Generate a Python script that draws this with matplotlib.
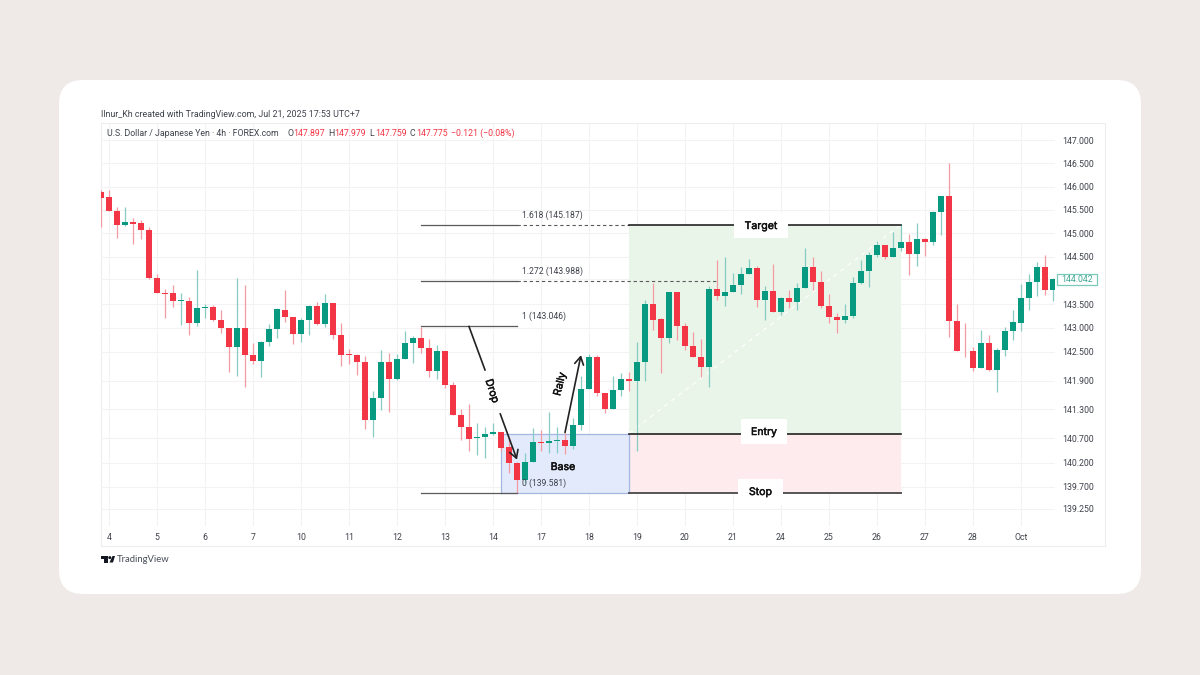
#!/usr/bin/env python3
"""USD/JPY 4h candles with a drop-base-rally setup, TradingView style."""

import matplotlib
matplotlib.use("Agg")
import matplotlib.patheffects as pe
import matplotlib.pyplot as plt
from matplotlib.patches import Circle, FancyBboxPatch, Polygon, Rectangle

plt.rcParams["font.family"] = ["Roboto", "DejaVu Sans"]

RED = "#F23645"
GREEN = "#089981"
RED_WICK = "#F59AA2"
GREEN_WICK = "#86CCC0"
GRID = "#F3F3F3"
TEXT = "#3F424B"
INK = "#111111"

opens = [145.89, 145.77, 145.48, 145.17, 145.25, 145.22, 145.07, 144.05, 143.74, 143.73,
         143.57, 143.57, 143.10, 143.43, 143.45, 143.17, 143.00, 142.61, 143.00, 142.44,
         142.30, 142.70, 142.98, 143.38, 143.23, 142.88, 143.17, 143.47, 143.08, 143.52,
         142.86, 142.45, 142.44, 142.28, 141.08, 141.53, 142.28, 141.94, 142.34, 142.68,
         142.78, 142.57, 142.09, 142.51, 141.81, 141.19, 140.94, 140.70, 140.72, 140.80,
         140.83, 140.52, 140.20, 139.85, 140.22, 140.63, 140.60, 140.65, 140.66, 140.55,
         140.97, 141.73, 142.40, 141.65, 141.31, 141.71, 141.94, 141.90, 142.28, 143.50,
         143.18, 142.79, 143.76, 143.04, 142.62, 142.40, 142.19, 143.81, 143.67, 143.76,
         143.91, 144.13, 144.26, 143.58, 143.78, 143.34, 143.62, 143.55, 143.84, 144.29,
         143.97, 143.46, 143.22, 143.17, 143.25, 143.94, 144.20, 144.53, 144.75, 144.49,
         144.68, 144.82, 144.56, 144.87, 144.82, 145.46, 145.79, 143.15, 142.52, 142.51,
         142.17, 142.69, 142.12, 142.53, 142.93, 143.11, 143.62, 143.96, 144.28, 143.80]
highs = [145.93, 145.93, 145.57, 145.56, 145.33, 145.28, 145.14, 144.14, 143.82, 143.91,
         143.74, 143.65, 144.22, 143.50, 143.48, 143.38, 143.00, 144.05, 143.91, 142.68,
         142.73, 143.08, 143.43, 143.80, 143.23, 143.20, 143.48, 143.54, 143.72, 143.52,
         143.11, 142.56, 142.46, 142.41, 141.69, 142.53, 142.48, 142.45, 142.94, 142.84,
         143.03, 142.77, 142.65, 142.51, 141.86, 141.30, 141.41, 141.01, 140.93, 141.01,
         140.83, 140.71, 140.22, 140.39, 140.91, 140.87, 141.25, 140.94, 140.82, 141.12,
         142.00, 142.46, 142.43, 141.65, 142.00, 142.06, 142.07, 142.71, 143.59, 143.94,
         143.20, 143.76, 143.76, 143.11, 142.92, 142.76, 143.88, 144.43, 144.50, 144.15,
         144.29, 144.46, 144.31, 143.88, 144.35, 143.65, 143.79, 143.94, 144.68, 144.49,
         144.21, 143.72, 143.31, 143.50, 144.07, 144.43, 144.61, 144.84, 144.75, 145.04,
         145.20, 144.98, 145.22, 144.90, 145.48, 145.80, 146.50, 143.50, 143.10, 142.61,
         142.96, 142.85, 142.57, 143.01, 143.38, 143.92, 144.13, 144.40, 144.54, 144.06]
lows = [145.14, 145.48, 144.90, 145.15, 144.77, 144.88, 144.03, 143.73, 143.20, 143.45,
        143.06, 142.85, 143.05, 143.20, 143.15, 142.90, 142.07, 142.00, 141.77, 142.25,
        141.97, 142.62, 142.78, 143.12, 142.66, 142.71, 142.86, 143.06, 143.03, 142.77,
        142.20, 142.24, 142.02, 140.90, 140.72, 141.29, 141.25, 141.92, 142.34, 142.27,
        142.48, 141.98, 141.94, 141.75, 141.19, 140.66, 140.43, 140.36, 140.29, 140.77,
        140.44, 139.99, 139.57, 139.79, 140.22, 140.43, 140.39, 140.39, 140.38, 140.48,
        140.87, 141.73, 141.58, 141.23, 141.31, 141.57, 141.69, 140.44, 141.90, 142.96,
        142.06, 142.69, 142.74, 142.53, 142.39, 141.97, 141.76, 143.59, 143.46, 143.76,
        143.71, 144.13, 143.45, 143.17, 143.34, 143.27, 143.43, 143.38, 143.84, 143.80,
        143.41, 143.11, 142.90, 143.10, 143.20, 143.93, 143.87, 144.50, 144.46, 144.49,
        144.63, 144.12, 144.31, 144.52, 144.75, 144.96, 142.80, 142.52, 142.39, 142.09,
        142.17, 142.10, 141.66, 142.41, 142.74, 142.94, 143.38, 143.67, 143.69, 143.57]
closes = [145.76, 145.48, 145.18, 145.25, 145.21, 145.07, 144.05, 143.73, 143.72, 143.57,
          143.59, 143.10, 143.43, 143.45, 143.17, 142.99, 142.61, 143.00, 142.43, 142.30,
          142.71, 142.98, 143.39, 143.23, 142.88, 143.17, 143.47, 143.08, 143.52, 142.86,
          142.44, 142.43, 142.28, 141.08, 141.53, 142.28, 141.94, 142.35, 142.68, 142.78,
          142.57, 142.09, 142.51, 141.81, 141.19, 140.94, 140.69, 140.73, 140.80, 140.83,
          140.51, 140.20, 139.85, 140.22, 140.63, 140.60, 140.65, 140.66, 140.55, 140.98,
          141.73, 142.40, 141.64, 141.31, 141.71, 141.94, 141.90, 142.29, 143.50, 143.17,
          142.79, 143.76, 143.04, 142.62, 142.39, 142.19, 143.81, 143.67, 143.76, 143.91,
          144.13, 144.26, 143.58, 143.78, 143.34, 143.62, 143.55, 143.85, 144.29, 143.96,
          143.46, 143.22, 143.17, 143.26, 143.95, 144.20, 144.53, 144.75, 144.49, 144.69,
          144.82, 144.56, 144.87, 144.82, 145.46, 145.79, 143.15, 142.52, 142.51, 142.17,
          142.69, 142.12, 142.53, 142.94, 143.12, 143.63, 143.97, 144.28, 143.80, 144.04]

day_bars = [1, 7, 13, 19, 25, 31, 37, 43, 49, 55, 61, 67, 73, 79, 85, 91, 97, 103, 109, 115]
day_labels = ["4", "5", "6", "7", "10", "11", "12", "13", "14", "17",
              "18", "19", "20", "21", "24", "25", "26", "27", "28", "Oct"]
price_ticks = [147.0, 146.5, 146.0, 145.5, 145.0, 144.5, 143.5, 143.0, 142.5,
               141.9, 141.3, 140.7, 140.2, 139.7, 139.25]

fib_levels = [145.187, 143.988, 143.046, 139.581]
fib_labels = ["1.618 (145.187)", "1.272 (143.988)", "1 (143.046)", "0 (139.581)"]
target_price = 145.187
entry_price = 140.80
stop_price = 139.581
last_price = 144.042

fig = plt.figure(figsize=(12, 6.75), dpi=100, facecolor="#EFEAE7")

# backdrop and all pixel-placed furniture
bg = fig.add_axes([0, 0, 1, 1], zorder=0)
bg.set_xlim(0, 1200)
bg.set_ylim(675, 0)
bg.axis("off")
bg.add_patch(FancyBboxPatch((59 + 24, 80 + 24), 1082 - 48, 514 - 48,
                            boxstyle="round,pad=24,rounding_size=24", fc="white", ec="none"))
bg.add_patch(Rectangle((101, 123), 1004, 423, fc="white", ec="#EDEDED", lw=0.8))

# chart area, x is the bar number and y is a log price scale like the source
ax = fig.add_axes([101 / 1200, 1 - 526 / 675, 954 / 1200, 403 / 675], zorder=1)
ax.set_facecolor("none")
ax.set_xlim(0, 119.25)
ax.set_yscale("log")
ax.set_ylim(138.90, 147.37)
for side in ax.spines.values():
    side.set_visible(False)
ax.minorticks_off()
ax.set_xticks(day_bars)
ax.set_xticklabels(day_labels, fontsize=6.3, color=TEXT)
ax.tick_params(axis="x", length=0, pad=4.8)
ax.yaxis.tick_right()
ax.set_yticks(price_ticks)
ax.set_yticklabels([f"{p:.3f}" for p in price_ticks], fontsize=6.3, color=TEXT)
ax.tick_params(axis="y", length=0, pad=5.4)
ax.minorticks_off()
ax.grid(True, color=GRID, lw=0.8)
ax.set_axisbelow(True)
ax.axhline(last_price, color=GRID, lw=0.8, zorder=0)

# position tool and base zone
ax.fill_between([66, 100], entry_price, target_price, color="#EAF5EA", lw=0, zorder=1)
ax.fill_between([66, 100], stop_price, entry_price, color="#FDEBEE", lw=0, zorder=1)
ax.fill_between([50, 66], stop_price, entry_price, color="#E3EAFC", lw=0, zorder=1)
ax.plot([50, 66, 66, 50, 50], [stop_price, stop_price, entry_price, entry_price, stop_price],
        color="#A5B6E2", lw=0.9, zorder=1.5)
ax.plot([66, 100], [entry_price, target_price], color="white", lw=0.8, ls=(0, (4, 4)), zorder=1.5)

# candles
for i, (o, h, l, c) in enumerate(zip(opens, highs, lows, closes)):
    up = c >= o
    ax.plot([i, i], [l, h], color=GREEN_WICK if up else RED_WICK, lw=0.9, zorder=2,
            solid_capstyle="butt")
    ax.bar(i, abs(c - o), bottom=min(o, c), width=0.82, color=GREEN if up else RED, lw=0, zorder=3)

# fib lines
for price, label in zip(fib_levels, fib_labels):
    ax.plot([40, 52], [price, price], color="#5A5A5A", lw=0.9, zorder=4)
    ax.annotate(label, (52.6, price), xytext=(0, 6.8), textcoords="offset points",
                ha="left", va="center", fontsize=6.2, color=TEXT, zorder=6)
ax.plot([52, 66], [fib_levels[0]] * 2, color="#5A5A5A", lw=0.8, ls=(0, (3, 2.5)), zorder=4)
ax.plot([52, 77], [fib_levels[1]] * 2, color="#5A5A5A", lw=0.8, ls=(0, (3, 2.5)), zorder=4)

# long position borders
ax.plot([66, 100], [target_price] * 2, color=INK, lw=1.1, zorder=4)
ax.plot([66, 100], [entry_price] * 2, color="#222222", lw=1.2, zorder=4)
ax.plot([66, 100], [stop_price] * 2, color="#555555", lw=1.4, zorder=4)

# drop and rally arrows
ax.plot([46, 48], [143.03, 142.12], color="#222222", lw=1.2, zorder=6)
ax.annotate("", xy=(52, 140.26), xytext=(49.9, 141.21), zorder=6,
            arrowprops=dict(arrowstyle="->,head_length=0.55,head_width=0.32", color="#222222",
                            lw=1.2, shrinkA=0, shrinkB=0))
ax.annotate("", xy=(60, 142.43), xytext=(58, 140.82), zorder=6,
            arrowprops=dict(arrowstyle="->,head_length=0.55,head_width=0.32", color="#222222",
                            lw=1.2, shrinkA=0, shrinkB=0))

# header text, tags and footer
top = fig.add_axes([0, 0, 1, 1], zorder=2)
top.set_xlim(0, 1200)
top.set_ylim(675, 0)
top.axis("off")
top.text(101, 114.5, "Ilnur_Kh created with TradingView.com, Jul 21, 2025 17:53 UTC+7",
         fontsize=6.4, color=TEXT, va="center")
top.text(107, 133.5, "U.S. Dollar / Japanese Yen · 4h · FOREX.com", fontsize=6.3, color=TEXT, va="center")
for x_letter, letter, x_val, val in [(287, "O", 293, "147.897"), (328, "H", 334, "147.979"),
                                     (369, "L", 375, "147.759"), (410, "C", 416, "147.775")]:
    top.text(x_letter, 133.5, letter, fontsize=6.3, color=TEXT, va="center")
    top.text(x_val, 133.5, val, fontsize=6.3, color=RED, va="center")
top.text(451, 133.5, "−0.121 (−0.08%)", fontsize=6.3, color=RED, va="center")

# white tags on the position borders
heavy = [pe.withStroke(linewidth=0.35, foreground=INK)]
for label, x0, x1, y0, y1, x_mid, y_mid in [("Target", 734, 788, 213, 238, 761, 226),
                                            ("Entry", 741, 787, 419, 444, 764, 432),
                                            ("Stop", 738, 783, 479, 505, 760.5, 492)]:
    top.add_patch(Rectangle((x0, y0), x1 - x0, y1 - y0, fc="white", ec="none"))
    top.text(x_mid, y_mid, label, ha="center", va="center", fontsize=7.6, family="Inter",
             color=INK, path_effects=heavy)
top.text(563, 467, "Base", ha="center", va="center", fontsize=7.6, family="Inter",
         color=INK, path_effects=heavy)
top.text(492, 391, "Drop", rotation=-72, ha="center", va="center", fontsize=7.6, family="Inter",
         color=INK, path_effects=heavy, rotation_mode="anchor")
top.text(560, 384, "Rally", rotation=76, ha="center", va="center", fontsize=7.6, family="Inter",
         color=INK, path_effects=heavy, rotation_mode="anchor")

# last price tag
top.add_patch(Rectangle((1057, 273.5), 40, 11.5, fc="white", ec="#7CC9B8", lw=0.9))
top.text(1077, 279.5, f"{last_price:.3f}", fontsize=6.3, color="#3FA893", ha="center", va="center")

# logo and footer
top.add_patch(Polygon([(101, 556), (108, 556), (108, 562.5), (104, 562.5), (104, 559), (101, 559)],
                      fc="#131722", ec="none"))
top.add_patch(Circle((109.8, 557.6), 1.5, fc="#131722", ec="none"))
top.add_patch(Polygon([(109.5, 562.5), (113, 562.5), (115, 556), (112.5, 556)], fc="#131722", ec="none"))
top.text(117, 560, "TradingView", fontsize=6.8, color="#4A4E59", va="center", family="Lato")

fig.savefig("out.png", dpi=100)
plt.close(fig)
